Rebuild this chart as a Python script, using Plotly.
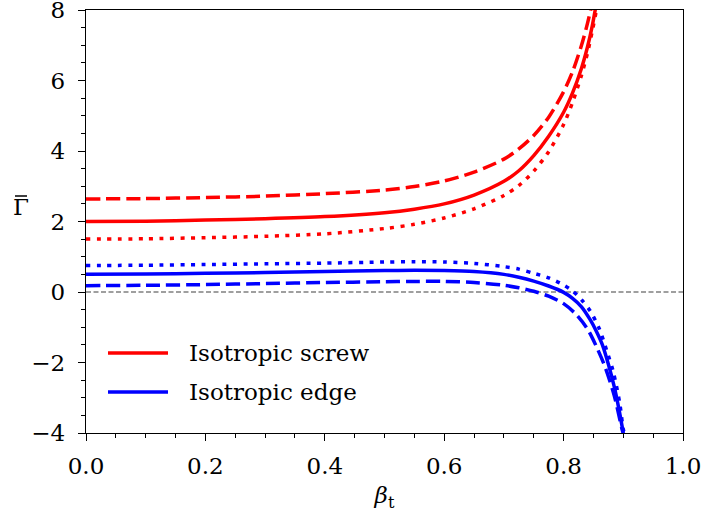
import plotly.graph_objects as go

# ---- data ----
beta_screw_solid = [0.0, 0.1, 0.2, 0.3, 0.4, 0.5, 0.55, 0.6, 0.65, 0.7, 0.725, 0.75, 0.775, 0.8, 0.815, 0.83, 0.84, 0.848, 0.855]
gamma_screw_solid = [2.00, 2.01, 2.04, 2.08, 2.14, 2.25, 2.35, 2.50, 2.75, 3.14, 3.44, 3.87, 4.42, 5.10, 5.65, 6.35, 6.95, 7.55, 8.2]

beta_screw_dash = [0.0, 0.1, 0.2, 0.3, 0.4, 0.5, 0.55, 0.6, 0.65, 0.7, 0.725, 0.75, 0.775, 0.8, 0.815, 0.83, 0.84, 0.848]
gamma_screw_dash = [2.64, 2.65, 2.68, 2.72, 2.79, 2.89, 2.99, 3.15, 3.40, 3.77, 4.06, 4.44, 4.96, 5.68, 6.25, 7.00, 7.62, 8.2]

beta_screw_dot = [0.0, 0.1, 0.2, 0.3, 0.4, 0.5, 0.55, 0.6, 0.65, 0.7, 0.725, 0.75, 0.775, 0.8, 0.815, 0.83, 0.84, 0.848, 0.855, 0.86]
gamma_screw_dot = [1.50, 1.51, 1.54, 1.58, 1.65, 1.80, 1.92, 2.10, 2.36, 2.74, 3.02, 3.43, 3.98, 4.75, 5.38, 6.15, 6.78, 7.40, 8.0, 8.45]

beta_edge_solid = [0.0, 0.1, 0.2, 0.3, 0.4, 0.5, 0.55, 0.6, 0.65, 0.7, 0.725, 0.75, 0.775, 0.8, 0.815, 0.83, 0.845, 0.855, 0.865, 0.875, 0.885, 0.893, 0.9]
gamma_edge_solid = [0.50, 0.51, 0.53, 0.55, 0.58, 0.61, 0.62, 0.61, 0.58, 0.50, 0.42, 0.31, 0.17, -0.01, -0.18, -0.42, -0.80, -1.12, -1.50, -2.05, -2.70, -3.35, -4.0]

beta_edge_dash = [0.0, 0.1, 0.2, 0.3, 0.4, 0.5, 0.55, 0.6, 0.65, 0.7, 0.725, 0.75, 0.775, 0.8, 0.82, 0.84, 0.855, 0.87, 0.885, 0.898, 0.9]
gamma_edge_dash = [0.18, 0.19, 0.21, 0.24, 0.27, 0.29, 0.30, 0.30, 0.27, 0.19, 0.12, 0.02, -0.12, -0.33, -0.62, -1.05, -1.55, -2.15, -2.95, -3.9, -4.0]

beta_edge_dot = [0.0, 0.1, 0.2, 0.3, 0.4, 0.5, 0.55, 0.6, 0.65, 0.7, 0.725, 0.75, 0.775, 0.8, 0.815, 0.83, 0.845, 0.86, 0.872, 0.883, 0.894, 0.9, 0.902]
gamma_edge_dot = [0.75, 0.76, 0.78, 0.80, 0.82, 0.85, 0.86, 0.85, 0.81, 0.72, 0.65, 0.53, 0.40, 0.20, 0.03, -0.22, -0.55, -1.05, -1.65, -2.25, -3.15, -3.9, -4.0]

legend_labels = ["Isotropic screw", "Isotropic edge"]
x_ticks = [0.0, 0.2, 0.4, 0.6, 0.8, 1.0]
y_ticks = [-4, -2, 0, 2, 4, 6, 8]

RED = "#ff0000"
BLUE = "#0000ff"
LW = 3.5
DASH = "14px,6px"
DOT = "4px,6.5px"
FONT = "DejaVu Serif"
FS = 23

fig = go.Figure()

def add(x, y, color, dash):
    fig.add_trace(go.Scatter(x=x, y=y, mode="lines",
                             line=dict(color=color, width=LW, dash=dash, shape="spline", smoothing=0.8),
                             showlegend=False, hoverinfo="skip", cliponaxis=True))

add(beta_screw_dash, gamma_screw_dash, RED, DASH)
add(beta_screw_solid, gamma_screw_solid, RED, "solid")
add(beta_screw_dot, gamma_screw_dot, RED, DOT)
add(beta_edge_dash, gamma_edge_dash, BLUE, DASH)
add(beta_edge_solid, gamma_edge_solid, BLUE, "solid")
add(beta_edge_dot, gamma_edge_dot, BLUE, DOT)

# zero reference line
fig.add_hline(y=0, line=dict(color="#808080", width=1.3, dash="5px,2.5px"), layer="below")

# manual legend (long line samples as in the reference)
W, H = 701, 518
ml, mr, mt, mb = 86, 18, 10, 85
pw, ph = W - ml - mr, H - mt - mb
def px2paper(xp, yp):
    return (xp - ml) / pw, (H - mb - yp) / ph

for label, color, yp in [(legend_labels[0], RED, 353), (legend_labels[1], BLUE, 392)]:
    x0, yy = px2paper(108, yp)
    x1, _ = px2paper(168, yp)
    fig.add_shape(type="line", xref="paper", yref="paper", x0=x0, x1=x1, y0=yy, y1=yy,
                  line=dict(color=color, width=LW))
    xt, _ = px2paper(187, yp)
    fig.add_annotation(x=xt, y=yy, xref="paper", yref="paper", text=label, showarrow=False,
                       xanchor="left", yanchor="middle", font=dict(family=FONT, size=FS, color="black"))

# y-axis label: Gamma with a bar over it
gx, gy = px2paper(21, 207)
fig.add_annotation(x=gx, y=gy, xref="paper", yref="paper", text="Γ", showarrow=False,
                   xanchor="center", yanchor="middle", font=dict(family=FONT, size=FS, color="black"))
b0x, by = px2paper(15, 196)
b1x, _ = px2paper(27, 196)
fig.add_shape(type="line", xref="paper", yref="paper", x0=b0x, x1=b1x, y0=by, y1=by,
              line=dict(color="black", width=1.5))

axis_common = dict(showline=True, linecolor="black", linewidth=1.3, mirror=True,
                   ticks="outside", ticklen=7, tickwidth=1.3, tickcolor="black",
                   showgrid=False, zeroline=False, automargin=False, ticklabeloverflow="allow",
                   tickfont=dict(family=FONT, size=FS, color="black"))

fig.update_xaxes(range=[0, 1], tickvals=x_ticks, ticktext=[f"{v:.1f}" for v in x_ticks],
                 minor=dict(ticks="outside", dtick=0.05, ticklen=4, tickwidth=1.1, tickcolor="black"),
                 title=dict(text="<i>β</i><sub>t</sub>", font=dict(family=FONT, size=FS, color="black"), standoff=9),
                 ticklabelstandoff=5,
                 **axis_common)
fig.update_yaxes(range=[-4.0001, 8.0001], tickvals=y_ticks, ticktext=[("−" + str(-v)) if v < 0 else str(v) for v in y_ticks],
                 minor=dict(ticks="outside", dtick=0.5, ticklen=4, tickwidth=1.1, tickcolor="black"),
                 ticklabelstandoff=8,
                 **axis_common)

fig.update_layout(width=W, height=H, margin=dict(l=ml, r=mr, t=mt, b=mb),
                  plot_bgcolor="white", paper_bgcolor="white", showlegend=False)

fig.write_html("out.html", config={"displayModeBar": False},
               post_script="document.body.style.margin='0';document.body.style.padding='0';")
